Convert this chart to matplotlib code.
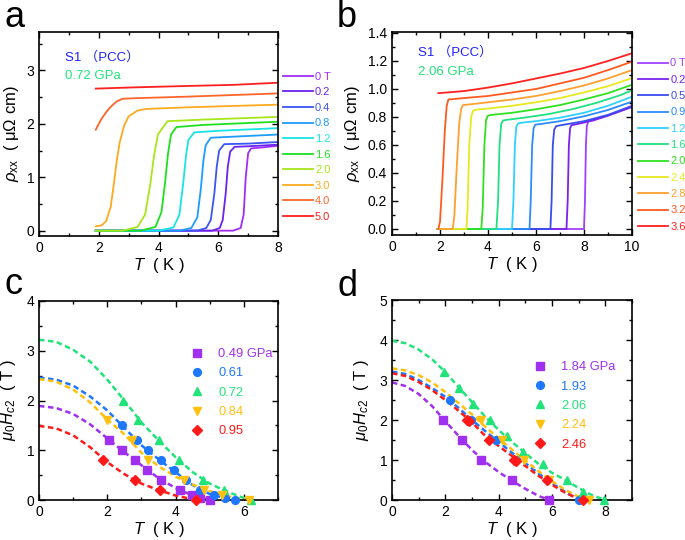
import matplotlib
matplotlib.use("Agg")
import matplotlib.pyplot as plt
from matplotlib.ticker import MultipleLocator, FormatStrFormatter

plt.rcParams['font.family'] = ['Liberation Sans', 'Noto Sans CJK SC']
plt.rcParams['mathtext.fontset'] = 'custom'
plt.rcParams['mathtext.rm'] = 'Liberation Sans'
plt.rcParams['mathtext.it'] = 'Liberation Sans:italic'
plt.rcParams['axes.linewidth'] = 1.2

# ---------------- Panel a data (0.72 GPa) ----------------
a_fields = ['0 T', '0.2', '0.4', '0.8', '1.2', '1.6', '2.0', '3.0', '4.0', '5.0']
a_colors = ['#a32cf5', '#6a22f0', '#3a55f2', '#1e9cff', '#19e3e3', '#1ee01e',
            '#a6e61a', '#ffaa1e', '#ff6428', '#ff1e1e']
a_T0 = [1.9, 5.0, 6.5, 6.75, 6.85, 6.92, 7.0, 7.1, 7.5, 8.0]
a_R0 = [0, 0, 0, 0.05, 0.3, 1.0, 1.45, 1.54, 1.56, 1.59]
a_T1 = [1.9, 5.8, 6.05, 6.15, 6.25, 6.32, 6.4, 6.55, 7.0, 8.0]
a_R1 = [0, 0, 0.05, 0.2, 0.7, 1.2, 1.48, 1.57, 1.58, 1.61]
a_T2 = [1.9, 5.3, 5.6, 5.75, 5.87, 5.95, 6.03, 6.2, 7.0, 8.0]
a_R2 = [0, 0, 0.05, 0.2, 0.7, 1.2, 1.5, 1.62, 1.63, 1.66]
a_T3 = [1.9, 4.7, 5.1, 5.3, 5.42, 5.5, 5.58, 5.75, 6.5, 8.0]
a_R3 = [0, 0, 0.05, 0.25, 0.8, 1.3, 1.6, 1.74, 1.76, 1.80]
a_T4 = [1.9, 4.0, 4.5, 4.7, 4.83, 4.92, 5.0, 5.2, 6.0, 8.0]
a_R4 = [0, 0, 0.06, 0.3, 0.9, 1.4, 1.7, 1.84, 1.87, 1.92]
a_T5 = [1.9, 3.4, 3.9, 4.1, 4.22, 4.32, 4.42, 4.6, 5.5, 8.0]
a_R5 = [0, 0, 0.07, 0.35, 0.9, 1.45, 1.8, 1.94, 1.98, 2.04]
a_T6 = [1.9, 2.8, 3.3, 3.55, 3.72, 3.85, 3.98, 4.3, 5.5, 8.0]
a_R6 = [0, 0, 0.07, 0.3, 0.85, 1.4, 1.8, 2.05, 2.08, 2.13]
a_T7 = [1.9, 2.1, 2.25, 2.4, 2.5, 2.6, 2.7, 2.85, 3.0, 3.3, 3.6, 5.0, 8.0]
a_R7 = [0.08, 0.1, 0.18, 0.45, 0.85, 1.3, 1.65, 1.97, 2.14, 2.25, 2.28, 2.31, 2.36]
a_T8 = [1.9, 2.0, 2.1, 2.25, 2.4, 2.6, 2.8, 3.2, 5.0, 8.0]
a_R8 = [1.89, 2.0, 2.1, 2.22, 2.32, 2.42, 2.47, 2.48, 2.51, 2.57]
a_T9 = [1.9, 3.0, 5.0, 6.5, 8.0]
a_R9 = [2.66, 2.68, 2.71, 2.73, 2.77]
a_T = [a_T0, a_T1, a_T2, a_T3, a_T4, a_T5, a_T6, a_T7, a_T8, a_T9]
a_R = [a_R0, a_R1, a_R2, a_R3, a_R4, a_R5, a_R6, a_R7, a_R8, a_R9]

# ---------------- Panel b data (2.06 GPa) ----------------
b_fields = ['0 T', '0.2', '0.5', '0.9', '1.2', '1.6', '2.0', '2.4', '2.8', '3.2', '3.6']
b_colors = ['#a040ff', '#7a22f0', '#3a4cf0', '#2a8cff', '#30d0ff', '#20e080',
            '#30e020', '#e8e820', '#ffa030', '#ff5a20', '#ff2020']
b_T0 = [1.9, 8.0, 8.04, 8.08, 8.12, 8.18, 8.4, 9, 10]
b_R0 = [0, 0, 0.2, 0.6, 0.74, 0.768, 0.775, 0.81, 0.87]
b_T1 = [1.9, 7.27, 7.32, 7.37, 7.42, 7.48, 7.6, 8, 9, 10]
b_R1 = [0, 0, 0.2, 0.6, 0.72, 0.742, 0.745, 0.76, 0.81, 0.875]
b_T2 = [1.9, 6.6, 6.65, 6.7, 6.76, 6.84, 7.0, 8, 9, 10]
b_R2 = [0, 0, 0.2, 0.6, 0.71, 0.735, 0.74, 0.77, 0.815, 0.88]
b_T3 = [1.9, 5.73, 5.78, 5.84, 5.9, 5.97, 6.2, 7, 8, 9, 10]
b_R3 = [0, 0, 0.2, 0.6, 0.72, 0.745, 0.75, 0.77, 0.805, 0.85, 0.91]
b_T4 = [1.9, 5.0, 5.06, 5.12, 5.18, 5.26, 5.45, 6, 7, 8, 9, 10]
b_R4 = [0, 0, 0.2, 0.6, 0.73, 0.755, 0.76, 0.77, 0.795, 0.83, 0.88, 0.945]
b_T5 = [1.9, 4.35, 4.42, 4.48, 4.55, 4.62, 4.8, 5.5, 6.5, 7.5, 8.5, 9.5, 10]
b_R5 = [0, 0, 0.2, 0.6, 0.75, 0.775, 0.78, 0.795, 0.82, 0.855, 0.9, 0.955, 0.99]
b_T6 = [1.9, 3.72, 3.78, 3.85, 3.92, 4.0, 4.15, 5, 6, 7, 8, 9, 10]
b_R6 = [0, 0, 0.15, 0.6, 0.78, 0.81, 0.815, 0.83, 0.855, 0.885, 0.925, 0.97, 1.03]
b_T7 = [1.9, 3.1, 3.15, 3.22, 3.3, 3.38, 3.5, 4, 5, 6, 7, 8, 9, 10]
b_R7 = [0, 0, 0.15, 0.6, 0.8, 0.845, 0.852, 0.86, 0.88, 0.905, 0.935, 0.975, 1.02, 1.078]
b_T8 = [1.9, 2.53, 2.6, 2.7, 2.8, 2.88, 2.96, 3.5, 4, 5, 6, 7, 8, 9, 10]
b_R8 = [0, 0, 0.1, 0.45, 0.75, 0.86, 0.885, 0.895, 0.905, 0.925, 0.95, 0.985, 1.025, 1.075, 1.135]
b_T9 = [1.93, 2.0, 2.1, 2.2, 2.28, 2.35, 3, 4, 5, 6, 7, 8, 9, 10]
b_R9 = [0, 0.05, 0.35, 0.7, 0.88, 0.925, 0.935, 0.95, 0.975, 1.0, 1.04, 1.08, 1.135, 1.195]
b_T10 = [1.93, 3, 4, 5, 6, 7, 8, 9, 10]
b_R10 = [0.97, 0.985, 1.01, 1.04, 1.075, 1.11, 1.15, 1.2, 1.255]
b_T = [b_T0, b_T1, b_T2, b_T3, b_T4, b_T5, b_T6, b_T7, b_T8, b_T9, b_T10]
b_R = [b_R0, b_R1, b_R2, b_R3, b_R4, b_R5, b_R6, b_R7, b_R8, b_R9, b_R10]

# ---------------- Panel c data ----------------
c_labels = ['0.49 GPa', '0.61', '0.72', '0.84', '0.95']
cd_colors = ['#a030f0', '#1e78ff', '#22e37a', '#ffc010', '#ff1a1a']
cd_markers = ['s', 'o', '^', 'v', 'D']
c_pT = [[2.05, 2.42, 2.8, 3.16, 3.57, 4.13, 4.47, 4.72, 5.0],
        [2.44, 2.86, 3.18, 3.58, 3.96, 4.3, 4.73, 5.12, 5.45, 5.74],
        [2.47, 2.89, 3.5, 4.1, 4.79, 5.42, 6.2],
        [2.0, 2.71, 3.2, 4.26, 4.84, 5.35, 6.15],
        [1.88, 2.81, 3.54, 4.6]]
c_pH = [[1.2, 1.0, 0.8, 0.6, 0.4, 0.2, 0.1, 0.05, 0.0],
        [1.5, 1.2, 1.0, 0.8, 0.6, 0.4, 0.2, 0.1, 0.05, 0.0],
        [2.0, 1.6, 1.2, 0.8, 0.4, 0.2, 0.0],
        [1.6, 1.2, 0.8, 0.4, 0.2, 0.1, 0.0],
        [0.8, 0.4, 0.2, 0.0]]
c_fT = [[0, 0.5, 1, 1.5, 2, 2.5, 3, 3.5, 4, 4.5, 5.0],
        [0, 0.5, 1, 1.5, 2, 2.5, 3, 3.5, 4, 4.5, 5, 5.5, 5.8],
        [0, 0.5, 1, 1.5, 2, 2.5, 3, 3.5, 4, 4.5, 5, 5.5, 6, 6.2],
        [0, 0.5, 1, 1.5, 2, 2.5, 3, 3.5, 4, 4.5, 5, 5.5, 6, 6.15],
        [0, 0.5, 1, 1.5, 2, 2.5, 3, 3.5, 4, 4.6]]
c_fH = [[1.89, 1.85, 1.73, 1.52, 1.24, 0.96, 0.7, 0.44, 0.24, 0.09, 0.0],
        [2.46, 2.42, 2.3, 2.08, 1.8, 1.45, 1.1, 0.82, 0.56, 0.3, 0.12, 0.03, 0.0],
        [3.22, 3.18, 3.02, 2.78, 2.42, 2.0, 1.56, 1.2, 0.86, 0.56, 0.33, 0.17, 0.04, 0.0],
        [2.43, 2.38, 2.22, 1.96, 1.62, 1.32, 0.95, 0.68, 0.47, 0.31, 0.18, 0.08, 0.01, 0.0],
        [1.49, 1.44, 1.3, 1.06, 0.76, 0.52, 0.33, 0.2, 0.09, 0.0]]

# ---------------- Panel d data ----------------
d_labels = ['1.84 GPa', '1.93', '2.06', '2.24', '2.46']
d_pT = [[1.91, 2.63, 3.34, 4.5, 5.88],
        [2.18, 2.96, 3.91, 7.0],
        [1.95, 2.5, 3.05, 3.67, 4.3, 4.92, 5.68, 6.58, 7.18, 7.96],
        [3.32, 4.12, 4.95, 5.9, 7.4],
        [2.83, 2.9, 3.65, 4.59, 4.66, 5.8, 7.18]]
d_pH = [[2.0, 1.5, 1.0, 0.5, 0.0],
        [2.5, 2.0, 1.5, 0.0],
        [3.2, 2.8, 2.4, 2.0, 1.6, 1.2, 0.9, 0.5, 0.2, 0.0],
        [2.0, 1.5, 1.0, 0.5, 0.0],
        [2.0, 1.98, 1.5, 1.0, 0.98, 0.5, 0.0]]
d_fT = [[0, 0.5, 1, 1.5, 2, 2.5, 3, 3.5, 4, 4.5, 5, 5.5, 5.9],
        [0, 0.5, 1, 1.5, 2, 2.5, 3, 3.5, 4, 4.5, 5, 5.5, 6, 6.5, 7.0],
        [0, 0.5, 1, 1.5, 2, 2.5, 3, 3.5, 4, 4.5, 5, 5.5, 6, 6.5, 7, 7.5, 8.0],
        [0, 0.5, 1, 1.5, 2, 2.5, 3, 3.5, 4, 4.5, 5, 5.5, 6, 6.5, 7, 7.45],
        [0, 0.5, 1, 1.5, 2, 2.5, 3, 3.5, 4, 4.5, 5, 5.5, 6, 6.5, 7.1]]
d_fH = [[2.94, 2.85, 2.65, 2.35, 1.97, 1.6, 1.25, 0.95, 0.7, 0.48, 0.28, 0.1, 0.0],
        [3.21, 3.15, 3.0, 2.8, 2.58, 2.3, 2.0, 1.72, 1.45, 1.18, 0.92, 0.66, 0.42, 0.2, 0.0],
        [3.98, 3.92, 3.76, 3.52, 3.2, 2.82, 2.45, 2.08, 1.75, 1.45, 1.17, 0.9, 0.68, 0.5, 0.3, 0.12, 0.0],
        [3.29, 3.24, 3.12, 2.94, 2.7, 2.42, 2.14, 1.83, 1.54, 1.26, 0.98, 0.72, 0.47, 0.25, 0.08, 0.0],
        [3.17, 3.1, 2.95, 2.75, 2.5, 2.23, 1.94, 1.6, 1.35, 1.1, 0.85, 0.6, 0.38, 0.18, 0.0]]

FIG_W, FIG_H = 685, 540
fig = plt.figure(figsize=(FIG_W / 100, FIG_H / 100), dpi=100)


def axes_px(l, t, r, b):
    return fig.add_axes([l / FIG_W, 1 - b / FIG_H, (r - l) / FIG_W, (b - t) / FIG_H])


def style(ax):
    ax.tick_params(which='both', direction='in', top=True, right=True, labelsize=10, width=1.0)
    ax.tick_params(which='major', length=4)
    ax.tick_params(which='minor', length=2.2)


ax_a = axes_px(39, 32, 278, 236)
ax_b = axes_px(392, 32, 632, 235)
ax_c = axes_px(39, 301, 278, 500)
ax_d = axes_px(392, 300, 632, 500)

# ---- a ----
for T, R, c, lab in zip(a_T, a_R, a_colors, a_fields):
    ax_a.plot(T, R, color=c, lw=1.3, label=lab)
ax_a.set_xlim(0, 8)
ax_a.set_ylim(-0.1, 3.72)
ax_a.xaxis.set_major_locator(MultipleLocator(2))
ax_a.xaxis.set_minor_locator(MultipleLocator(1))
ax_a.yaxis.set_major_locator(MultipleLocator(1))
ax_a.yaxis.set_minor_locator(MultipleLocator(0.5))
style(ax_a)
ax_a.set_xlabel(r'$T$  ( K )', fontsize=12, labelpad=1)
ax_a.set_ylabel(r'$\rho_{\rm xx}$  ( μΩ cm)', fontsize=12, labelpad=4)
ax_a.legend(loc='upper left', bbox_to_anchor=(1.02, 0.805), frameon=False, fontsize=8,
            handlelength=2.7, handletextpad=0.2, labelspacing=0.5, borderpad=0,
            borderaxespad=0, labelcolor='linecolor')
ax_a.text(0.11, 0.877, 'S1 （PCC）', color='#2020ff', fontsize=9.5, transform=ax_a.transAxes, va='center')
ax_a.text(0.11, 0.784, '0.72 GPa', color='#22e37a', fontsize=9.5, transform=ax_a.transAxes, va='center')

# ---- b ----
for T, R, c, lab in zip(b_T, b_R, b_colors, b_fields):
    ax_b.plot(T, R, color=c, lw=1.3, label=lab)
ax_b.set_xlim(0, 10)
ax_b.set_ylim(-0.043, 1.407)
ax_b.xaxis.set_major_locator(MultipleLocator(2))
ax_b.xaxis.set_minor_locator(MultipleLocator(1))
ax_b.yaxis.set_major_locator(MultipleLocator(0.2))
ax_b.yaxis.set_minor_locator(MultipleLocator(0.1))
ax_b.yaxis.set_major_formatter(FormatStrFormatter('%.1f'))
style(ax_b)
ax_b.set_xlabel(r'$T$  ( K )', fontsize=12, labelpad=1)
ax_b.set_ylabel(r'$\rho_{\rm xx}$  ( μΩ cm)', fontsize=12, labelpad=4)
ax_b.legend(loc='upper left', bbox_to_anchor=(1.025, 0.87), frameon=False, fontsize=8,
            handlelength=2.7, handletextpad=0.2, labelspacing=0.57, borderpad=0,
            borderaxespad=0, labelcolor='linecolor')
ax_b.text(0.11, 0.897, 'S1 （PCC）', color='#2020ff', fontsize=9.5, transform=ax_b.transAxes, va='center')
ax_b.text(0.11, 0.803, '2.06 GPa', color='#22e37a', fontsize=9.5, transform=ax_b.transAxes, va='center')

# ---- c & d ----
def hc2_panel(ax, fT, fH, pT, pH, labels, xmax, ymax, anchor):
    for T, H, c in zip(fT, fH, cd_colors):
        ax.plot(T, H, color=c, lw=1.8, ls=(0, (2.2, 1.4)))
    for T, H, c, m, lab in zip(pT, pH, cd_colors, cd_markers, labels):
        ax.plot(T, H, ls='none', marker=m, color=c, ms=5.6 if m != 'D' else 4.8,
                mec=c, label=lab, clip_on=False, zorder=3)
    ax.set_xlim(0, xmax)
    ax.set_ylim(0, ymax)
    ax.xaxis.set_major_locator(MultipleLocator(2))
    ax.xaxis.set_minor_locator(MultipleLocator(1))
    ax.yaxis.set_major_locator(MultipleLocator(1))
    ax.yaxis.set_minor_locator(MultipleLocator(0.5))
    style(ax)
    ax.set_xlabel(r'$T$  ( K )', fontsize=12, labelpad=1)
    ax.set_ylabel(r'$\mu_0H_{c2}$  ( T )', fontsize=12, labelpad=6)
    ax.legend(loc='upper left', bbox_to_anchor=anchor, frameon=False, fontsize=9.3,
              handlelength=1.0, handletextpad=1.15, labelspacing=0.56, borderpad=0,
              borderaxespad=0, numpoints=1, labelcolor='linecolor')


hc2_panel(ax_c, c_fT, c_fH, c_pT, c_pH, c_labels, 7, 4, (0.633, 0.763))
hc2_panel(ax_d, d_fT, d_fH, d_pT, d_pH, d_labels, 9, 5, (0.589, 0.693))

for s, x, y in [('a', 0.006, 0.950), ('b', 0.492, 0.950), ('c', 0.006, 0.455), ('d', 0.492, 0.452)]:
    fig.text(x, y, s, fontsize=26, va='baseline', ha='left')

fig.savefig('out.png', dpi=100)
